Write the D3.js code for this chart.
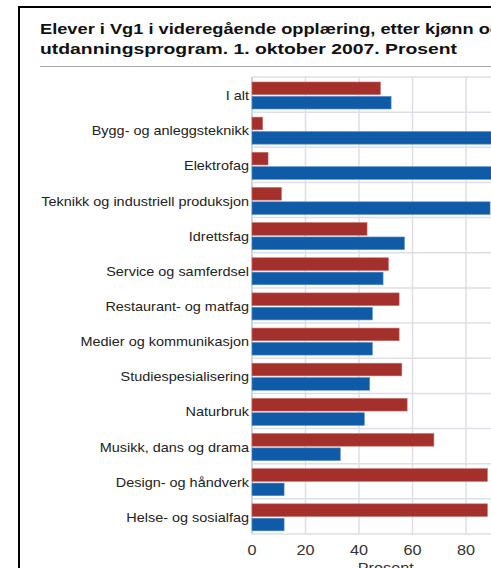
<!DOCTYPE html>
<html>
<head>
<meta charset="utf-8">
<script src="https://cdn.jsdelivr.net/npm/d3@7"></script>
<style>
  body { margin: 0; background: #fff; }
  svg { display: block; font-family: "Liberation Sans", Arial, sans-serif; }
</style>
</head>
<body>
<svg id="chart" width="491" height="568"></svg>
<script>
// data
var categories = ["I alt", "Bygg- og anleggsteknikk", "Elektrofag", "Teknikk og industriell produksjon",
  "Idrettsfag", "Service og samferdsel", "Restaurant- og matfag", "Medier og kommunikasjon",
  "Studiespesialisering", "Naturbruk", "Musikk, dans og drama", "Design- og håndverk", "Helse- og sosialfag"];
var jenter = [48, 4, 6, 11, 43, 51, 55, 55, 56, 58, 68, 88, 88];
var gutter = [52, 96, 94, 89, 57, 49, 45, 45, 44, 42, 33, 12, 12];
var xTicks = [0, 20, 40, 60, 80, 100];
var titleLines = ["Elever i Vg1 i videregående opplæring, etter kjønn og",
  "utdanningsprogram. 1. oktober 2007. Prosent"];
var titleWidths = [461, 417];

var svg = d3.select("#chart");

// frame
svg.append("rect").attr("x", 19).attr("y", 7).attr("width", 600).attr("height", 700)
  .attr("fill", "#fff").attr("stroke", "#000").attr("stroke-width", 2);

// the picture's text is a bit wide, so stretch it to the measured widths
svg.selectAll("text.title").data(titleLines).enter().append("text")
  .attr("class", "title")
  .attr("x", 40).attr("y", function(d, i) { return 34 + i * 20; })
  .attr("textLength", function(d, i) { return titleWidths[i]; })
  .attr("lengthAdjust", "spacingAndGlyphs")
  .attr("font-size", 15.5).attr("font-weight", "bold").attr("fill", "#111")
  .text(function(d) { return d; });

svg.append("line").attr("x1", 40).attr("x2", 491).attr("y1", 66.5).attr("y2", 66.5)
  .attr("stroke", "#aaa").attr("stroke-width", 1);

var x = d3.scaleLinear().domain([0, 100]).range([252, 519.5]);
var y = d3.scaleBand().domain(categories).range([77, 534]);
var ySub = d3.scaleBand().domain(["jenter", "gutter"]).range([5, 32]).paddingInner(0.12);

var rows = categories.map(function(c, i) { return { cat: c, jenter: jenter[i], gutter: gutter[i] }; });

// grid
var grid = svg.append("g");
grid.selectAll("line.v").data(xTicks).enter().append("line")
  .attr("x1", function(d) { return x(d); }).attr("x2", function(d) { return x(d); })
  .attr("y1", 77).attr("y2", 534)
  .attr("stroke", function(d) { return d == 0 ? "#b9c6dc" : "#dcdfe6"; }).attr("stroke-width", 1.5);
grid.selectAll("line.h").data(categories.concat(["end"])).enter().append("line")
  .attr("x1", 252).attr("x2", 520)
  .attr("y1", function(d, i) { return 77 + i * y.step(); })
  .attr("y2", function(d, i) { return 77 + i * y.step(); })
  .attr("stroke", "#dcdfe6").attr("stroke-width", 1.5);

// bars
var g = svg.selectAll("g.row").data(rows).enter().append("g")
  .attr("transform", function(d) { return "translate(0," + y(d.cat) + ")"; });
g.append("rect").attr("x", x(0)).attr("y", ySub("jenter"))
  .attr("width", function(d) { return x(d.jenter) - x(0); })
  .attr("height", ySub.bandwidth()).attr("fill", "#a3302b")
  .attr("stroke", "#c86a66").attr("stroke-width", 0.6);
g.append("rect").attr("x", x(0)).attr("y", ySub("gutter"))
  .attr("width", function(d) { return x(d.gutter) - x(0); })
  .attr("height", ySub.bandwidth()).attr("fill", "#0f5ba8")
  .attr("stroke", "#5a8fc6").attr("stroke-width", 0.6);

// category labels
g.append("text")
  .attr("transform", "translate(249," + (y.bandwidth() / 2 + 5.5) + ") scale(1.07,1)")
  .attr("text-anchor", "end").attr("font-size", 13.5).attr("fill", "#222")
  .text(function(d) { return d.cat; });

// x axis labels
svg.selectAll("text.tick").data(xTicks).enter().append("text")
  .attr("transform", function(d) { return "translate(" + x(d) + ",555) scale(1.12,1)"; })
  .attr("text-anchor", "middle").attr("font-size", 14.5).attr("fill", "#333")
  .text(function(d) { return d; });
svg.append("text")
  .attr("transform", "translate(" + (x(0) + x(100)) / 2 + ",573) scale(1.12,1)")
  .attr("text-anchor", "middle").attr("font-size", 14.5).attr("fill", "#333")
  .text("Prosent");
</script>
</body>
</html>
